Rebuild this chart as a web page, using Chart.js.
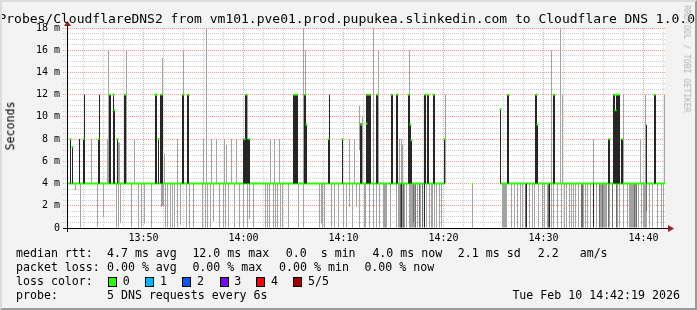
<!DOCTYPE html>
<html>
<head>
<meta charset="utf-8">
<script src="https://cdn.jsdelivr.net/npm/chart.js@4.4.1/dist/chart.umd.min.js"></script>
<style>
  body { margin: 0; background: #f3f3f3; }
  #wrap { position: relative; width: 697px; height: 310px; overflow: hidden; background: #f3f3f3;
          font-family: 'DejaVu Sans Mono', monospace; color: #000; }
  #chart { position: absolute; left: 0; top: 0; }
  .txt { position: absolute; white-space: pre; line-height: 1; font-size: 11.6px; }
  .box { position: absolute; top: 277px; width: 9px; height: 10px; box-sizing: border-box; border: 1px solid #000; }
  #frame { position: absolute; left: 0; top: 0; width: 697px; height: 310px; box-sizing: border-box;
           border: 2px solid; border-color: #dcdcdc #999 #999 #dcdcdc; pointer-events: none; }
</style>
</head>
<body>
<div id="wrap">
  <canvas id="chart" width="697" height="310"></canvas>
  <div class="txt" style="left:-1.6px;top:12px;font-size:13px">Probes/CloudflareDNS2 from vm101.pve01.prod.pupukea.slinkedin.com to Cloudflare DNS 1.0.0.1</div>
  <div class="txt" style="left:11px;top:126px;transform:translate(-50%,-50%) rotate(-90deg)">Seconds</div>
  <div class="txt" style="left:686.5px;top:59px;font-size:8.1px;color:#b4b4b4;transform:translate(-50%,-50%) rotate(90deg)">RRDTOOL / TOBI OETIKER</div>

  <div class="txt" style="left:16px;top:248px">median rtt:</div>
  <div class="txt" style="left:107px;top:248px">4.7 ms avg</div>
  <div class="txt" style="left:192.4px;top:248px">12.0 ms max</div>
  <div class="txt" style="left:285.8px;top:248px">0.0  s min</div>
  <div class="txt" style="left:372.4px;top:248px">4.0 ms now</div>
  <div class="txt" style="left:457.8px;top:248px">2.1 ms sd</div>
  <div class="txt" style="left:537.8px;top:248px">2.2   am/s</div>

  <div class="txt" style="left:16px;top:262px">packet loss:</div>
  <div class="txt" style="left:107px;top:262px">0.00 % avg</div>
  <div class="txt" style="left:192.4px;top:262px">0.00 % max</div>
  <div class="txt" style="left:279.1px;top:262px">0.00 % min</div>
  <div class="txt" style="left:364.4px;top:262px">0.00 % now</div>

  <div class="txt" style="left:16px;top:276px">loss color:</div>
  <div id="lossLegend"></div>

  <div class="txt" style="left:16px;top:290px">probe:</div>
  <div class="txt" style="left:107px;top:290px">5 DNS requests every 6s</div>
  <div class="txt" style="left:512.4px;top:290px">Tue Feb 10 14:42:19 2026</div>
  <div id="frame"></div>
</div>
<script>
// time axis: minutes after 13:00, values in ms
const xMin = 42.35, xMax = 102.15;
const yMin = 0, yMax = 18;
const medianBase = 4;

const lossLabels = ['0', '1', '2', '3', '4', '5/5'];
const lossColors = ['#26ff00', '#00b8ff', '#0059ff', '#7e00ff', '#ff0000', '#a00000'];
const lossBoxX = [108, 145.3, 182.2, 219.6, 256.4, 293.3];

// median at base level, [from, to]
const medianRuns = [[42.35, 80.15], [82.85, 82.95], [85.65, 102.15]];

// median above base, [t, ms]
const medianPeaks = [
  [42.7, 8], [42.9, 7.3], [44.0, 8], [45.5, 8], [46.6, 12], [47.0, 12], [47.1, 10.6], [47.4, 8],
  [48.2, 12], [51.2, 12], [51.3, 12], [51.5, 8], [51.8, 12],
  [54.0, 12], [54.5, 12], [60.1, 8], [60.3, 12], [60.6, 8],
  [65.1, 12], [65.3, 12], [66.2, 12], [66.3, 9.3], [68.5, 8], [69.9, 8], [71.8, 9.3],
  [72.3, 9.4], [72.4, 12], [72.6, 12], [73.4, 12], [74.8, 12], [75.4, 12], [76.5, 12], [76.7, 9.3],
  [76.8, 7.9], [78.2, 12], [78.5, 12], [79.0, 12], [80.1, 8],
  [85.7, 10.7], [86.5, 12], [89.3, 12], [89.4, 9.3], [91.1, 12],
  [96.6, 8], [97.1, 12], [97.2, 10.6], [97.3, 12], [97.5, 12], [97.9, 8], [101.1, 12]
];

// dark smoke (inner pings), [t, lo, hi]
const darkSmoke = [
  [42.7, 4, 8], [42.9, 4, 7.3], [43.6, 4, 8], [44.0, 4, 8], [44.1, 4, 12], [45.5, 4, 8], [45.6, 4, 12],
  [46.6, 4, 12], [46.7, 4, 12], [47.0, 4, 12], [47.1, 4, 10.6], [47.4, 4, 8], [48.1, 4, 12], [48.2, 4, 12],
  [51.2, 4, 12], [51.3, 4, 12], [51.5, 4, 8], [51.7, 4, 12], [51.8, 4, 12], [51.9, 4, 12],
  [53.9, 4, 12], [54.0, 4, 12], [54.4, 4, 12], [54.5, 4, 12],
  [60.0, 4, 8], [60.1, 4, 8], [60.2, 4, 12], [60.3, 4, 12], [60.4, 4, 8], [60.5, 4, 8], [60.6, 4, 8],
  [65.0, 4, 12], [65.1, 4, 12], [65.2, 4, 12], [65.3, 4, 12], [65.4, 4, 12],
  [66.1, 4, 12], [66.2, 4, 12], [66.3, 4, 9.3], [68.5, 4, 8], [68.6, 4, 12], [69.9, 4, 8],
  [71.7, 4, 9.4], [71.8, 4, 9.4],
  [72.3, 4, 12], [72.4, 4, 12], [72.5, 4, 12], [72.6, 4, 12], [72.7, 4, 12], [73.3, 4, 12], [73.4, 4, 12],
  [74.8, 4, 12], [74.9, 4, 12], [75.3, 4, 12], [75.4, 4, 12], [76.5, 4, 12], [76.6, 4, 12],
  [76.7, 4, 9.3], [76.8, 4, 7.9], [78.1, 4, 12], [78.2, 4, 12], [78.4, 4, 12], [78.5, 4, 12],
  [79.0, 4, 12], [79.1, 4, 12], [80.1, 4, 8],
  [85.7, 4, 10.7], [86.4, 4, 12], [86.5, 4, 12], [89.2, 4, 12], [89.3, 4, 12], [89.4, 4, 9.3],
  [91.0, 4, 12], [91.1, 4, 12],
  [96.5, 4, 8], [96.6, 4, 8], [97.0, 4, 12], [97.1, 4, 12], [97.2, 4, 10.6], [97.3, 4, 12], [97.4, 4, 12],
  [97.5, 4, 12], [97.6, 4, 12], [97.8, 4, 8], [97.9, 4, 8], [100.3, 4, 9.3], [101.1, 4, 12], [101.2, 4, 12],
  [75.8, 0, 4], [78.1, 0, 4], [88.3, 0, 4], [90.6, 0, 4], [95.0, 0, 4]
];

// mid grey smoke in the busy stretches, [t, lo, hi]
const midSmoke = [
  [75.7, 0, 4], [76.0, 0, 4], [77.0, 0.5, 4], [77.2, 0, 4], [77.6, 0, 4], [77.9, 0, 4],
  [88.2, 0, 4], [90.5, 0, 4], [93.8, 0, 4], [93.9, 0, 4], [95.6, 0, 4], [95.9, 0, 4],
  [96.5, 0, 4], [96.9, 0, 4], [97.3, 0, 4], [99.1, 0, 4], [99.3, 0, 4], [100.3, 1.5, 4]
];

// outer smoke above the median, [t, lo, hi]
const highSmoke = [
  [44.8, 4, 8], [46.4, 4, 8], [46.5, 4, 16], [47.5, 4, 7.7], [47.6, 4, 7.7], [48.3, 4, 16], [49.1, 4, 8],
  [51.9, 4, 15.3], [52.1, 4, 6.7], [53.4, 4, 8], [54.0, 4, 16], [56.0, 4, 8], [56.3, 4, 18], [56.8, 4, 8],
  [57.3, 4, 8], [58.1, 4, 8], [58.3, 4, 7.5], [58.8, 4, 8], [59.3, 4, 8], [60.4, 4, 12],
  [62.7, 4, 8], [63.1, 4, 8], [63.6, 4, 8], [66.0, 4, 18], [66.2, 4, 16], [70.6, 4, 8], [71.1, 4, 8],
  [71.6, 7, 11], [71.9, 4, 10.1],
  [73.0, 4, 18], [73.5, 4, 16], [75.6, 4, 8], [75.8, 4, 8], [75.9, 4, 7.5], [76.6, 4, 16], [80.2, 4, 12],
  [90.8, 4, 16], [91.7, 4, 18], [91.9, 4, 12],
  [95.0, 4, 8], [98.0, 4, 12], [99.7, 4, 8], [100.2, 4, 12], [102.1, 4, 12]
];

// outer smoke below the median, [t, lo]
const lowSmoke = [
  [42.4, 0], [43.2, 3.4], [43.7, 0], [45.4, 0], [46.0, 1.0], [47.3, 0], [47.5, 0], [47.7, 0.5], [48.8, 0],
  [49.5, 0], [49.8, 0], [50.1, 0.4], [50.8, 0], [51.8, 1.9], [51.9, 2.0], [52.0, 1.9],
  [52.2, 0], [52.4, 0], [52.7, 0], [52.9, 0], [53.1, 0], [53.4, 0], [53.7, 0.3], [54.3, 0], [54.6, 0],
  [55.0, 0], [55.9, 0], [56.2, 0], [56.4, 0], [56.7, 0], [57.0, 0.6], [57.6, 0], [58.0, 0], [58.2, 0],
  [58.5, 0], [59.1, 0], [59.6, 0], [60.0, 0], [60.4, 0], [60.6, 0.8], [61.0, 0],
  [62.2, 0], [62.4, 0], [62.6, 0], [63.0, 0], [63.2, 0], [63.4, 0], [63.7, 0], [63.9, 0], [64.5, 0],
  [65.5, 0], [66.0, 0], [67.6, 0], [67.8, 0.4], [67.9, 0], [68.1, 0], [68.8, 0], [69.1, 0], [69.5, 0],
  [70.0, 0], [70.3, 0], [70.6, 1.9], [70.9, 0], [71.3, 1.9], [71.6, 0], [72.1, 0],
  [72.2, 0], [72.6, 0], [73.0, 0], [73.3, 0], [73.6, 0], [74.0, 0], [74.1, 0], [74.2, 0], [74.3, 0],
  [74.7, 0], [75.3, 0], [75.5, 0], [75.6, 0], [75.7, 0], [75.9, 0], [76.0, 0], [76.1, 0], [76.3, 0],
  [76.6, 0], [76.7, 0], [76.8, 0], [76.9, 0], [77.0, 0], [77.1, 0], [77.2, 0], [77.4, 0], [77.7, 0],
  [78.3, 0], [78.6, 0], [78.8, 0], [78.9, 0], [79.1, 0], [79.3, 0], [79.6, 0], [79.8, 0],
  [82.9, 0], [85.9, 0], [86.0, 0], [86.1, 0], [86.2, 0], [86.3, 0], [86.8, 0], [87.1, 0], [87.4, 0],
  [87.7, 0], [87.9, 0], [88.6, 0], [88.9, 0], [89.1, 0], [89.5, 0], [89.9, 0], [90.1, 0], [90.4, 0],
  [90.8, 0], [91.0, 0], [91.4, 0], [91.8, 0], [92.1, 0],
  [92.3, 0], [92.6, 0], [92.8, 0], [93.0, 0], [93.2, 0], [93.5, 0], [93.8, 0], [94.0, 0], [94.2, 0],
  [94.4, 0], [94.7, 0], [95.3, 0], [95.6, 0], [95.7, 0], [95.8, 0], [95.9, 0], [96.0, 0], [96.1, 0],
  [96.2, 0], [96.3, 0], [96.6, 0], [96.9, 0], [97.4, 0], [97.6, 0], [98.0, 0], [98.4, 0], [98.6, 0],
  [98.7, 0], [98.8, 0], [98.9, 0], [99.0, 0], [99.2, 0], [99.5, 0], [99.8, 0], [100.0, 0], [100.1, 0],
  [100.2, 0], [100.3, 0], [100.6, 0], [100.9, 0], [101.4, 0], [101.8, 0], [102.0, 0]
];

// loss colour legend
const lossLegend = document.getElementById('lossLegend');
lossLabels.forEach(function (lab, i) {
  const b = document.createElement('div');
  b.className = 'box';
  b.style.left = lossBoxX[i] + 'px';
  b.style.background = lossColors[i];
  lossLegend.appendChild(b);
  const t = document.createElement('div');
  t.className = 'txt';
  t.style.left = (lossBoxX[i] + 14.7) + 'px';
  t.style.top = '276px';
  t.textContent = lab;
  lossLegend.appendChild(t);
});

const minorGrid = '#cdcdcd';
const majorGrid = '#eea4a4';
const tickFont = { family: "'DejaVu Sans Mono', monospace", size: 10 };

function fmtTime(v) {
  const h = 13 + Math.floor(v / 60), m = v % 60;
  return h + ':' + (m < 10 ? '0' : '') + m;
}

// median line with gaps between runs
const medianLine = [];
medianRuns.forEach(function (r) {
  medianLine.push({ x: r[0], y: medianBase }, { x: r[1], y: medianBase }, { x: r[1] + 0.01, y: null });
});

const smokeBars = highSmoke.map(d => ({ x: d[0], y: [d[1], d[2]] }))
  .concat(lowSmoke.map(d => ({ x: d[0], y: [d[1], medianBase] })));

function barSet(label, rows, color, order) {
  return {
    type: 'bar',
    label: label,
    data: rows,
    backgroundColor: color,
    barThickness: 1,
    grouped: false,
    inflateAmount: 0,
    borderWidth: 0,
    order: order
  };
}

// white canvas behind the grid
const plotBg = {
  id: 'plotBg',
  beforeDraw(chart) {
    const a = chart.chartArea, c = chart.ctx;
    c.save();
    c.fillStyle = '#fff';
    c.fillRect(a.left, a.top, a.right - a.left, a.bottom - a.top);
    c.restore();
  }
};

// rrdtool style axes with arrows
const axisArrows = {
  id: 'axisArrows',
  afterDraw(chart) {
    const a = chart.chartArea, c = chart.ctx;
    const x0 = a.left + 0.5, y0 = a.bottom + 0.5;
    c.save();
    c.strokeStyle = '#000';
    c.lineWidth = 1;
    c.beginPath();
    c.moveTo(a.left - 4, y0); c.lineTo(a.right + 3, y0);
    c.moveTo(x0, a.bottom + 4); c.lineTo(x0, a.top - 3);
    c.stroke();
    c.fillStyle = '#962020';
    c.beginPath();
    c.moveTo(a.right + 3, y0 - 3.5); c.lineTo(a.right + 9, y0); c.lineTo(a.right + 3, y0 + 3.5);
    c.fill();
    c.beginPath();
    c.moveTo(x0 - 3.5, a.top - 2); c.lineTo(x0, a.top - 7); c.lineTo(x0 + 3.5, a.top - 2);
    c.fill();
    c.restore();
  }
};

const ctx = document.getElementById('chart').getContext('2d');
const chart = new Chart(ctx, {
  type: 'bar',
  data: {
    datasets: [{
      type: 'line',
      label: 'median peaks',
      data: medianPeaks.map(d => ({ x: d[0], y: d[1] })),
      showLine: false,
      pointStyle: 'rect',
      pointRadius: 1.42,
      pointBackgroundColor: lossColors[0],
      pointBorderWidth: 0,
      order: 0
    },
    barSet('dark smoke', darkSmoke.map(d => ({ x: d[0], y: [d[1], d[2]] })), '#262626', 1),
    {
      type: 'line',
      label: 'median rtt',
      data: medianLine,
      borderColor: lossColors[0],
      borderWidth: 2,
      pointRadius: 0,
      spanGaps: false,
      order: 2
    },
    barSet('mid smoke', midSmoke.map(d => ({ x: d[0], y: [d[1], d[2]] })), '#6e6e6e', 3),
    barSet('smoke', smokeBars, '#a3a3a3', 4)
    ]
  },
  options: {
    responsive: false,
    devicePixelRatio: 1,
    animation: false,
    events: [],
    layout: { padding: { left: 0, right: 32, top: 28, bottom: 0 } },
    plugins: { legend: { display: false }, tooltip: { enabled: false } },
    scales: {
      x: {
        type: 'linear',
        min: xMin,
        max: xMax,
        offset: false,
        afterFit(s) { s.height = 82; },
        grid: {
          offset: false,
          drawTicks: false,
          color: c => (c.tick && c.tick.value % 10 === 0) ? majorGrid : minorGrid
        },
        border: { display: true, color: '#000', dash: [1, 1] },
        ticks: {
          stepSize: 2,
          includeBounds: false,
          autoSkip: false,
          maxRotation: 0,
          padding: 4,
          color: '#000',
          font: tickFont,
          callback: v => v % 10 === 0 ? fmtTime(v) : ''
        }
      },
      y: {
        type: 'linear',
        min: yMin,
        max: yMax,
        afterFit(s) { s.width = 67; },
        grid: {
          drawTicks: true,
          tickLength: 4,
          tickBorderDash: [1, 1],
          color: c => (c.tick && c.tick.value % 2 === 0) ? majorGrid : minorGrid
        },
        border: { display: true, color: '#000', dash: [1, 1] },
        ticks: {
          stepSize: 0.5,
          maxTicksLimit: 100,
          autoSkip: false,
          padding: 3,
          color: '#000',
          font: tickFont,
          callback: v => v % 2 === 0 ? (v === 0 ? '0' : v + ' m') : ''
        }
      }
    }
  },
  plugins: [plotBg, axisArrows]
});
</script>
</body>
</html>
